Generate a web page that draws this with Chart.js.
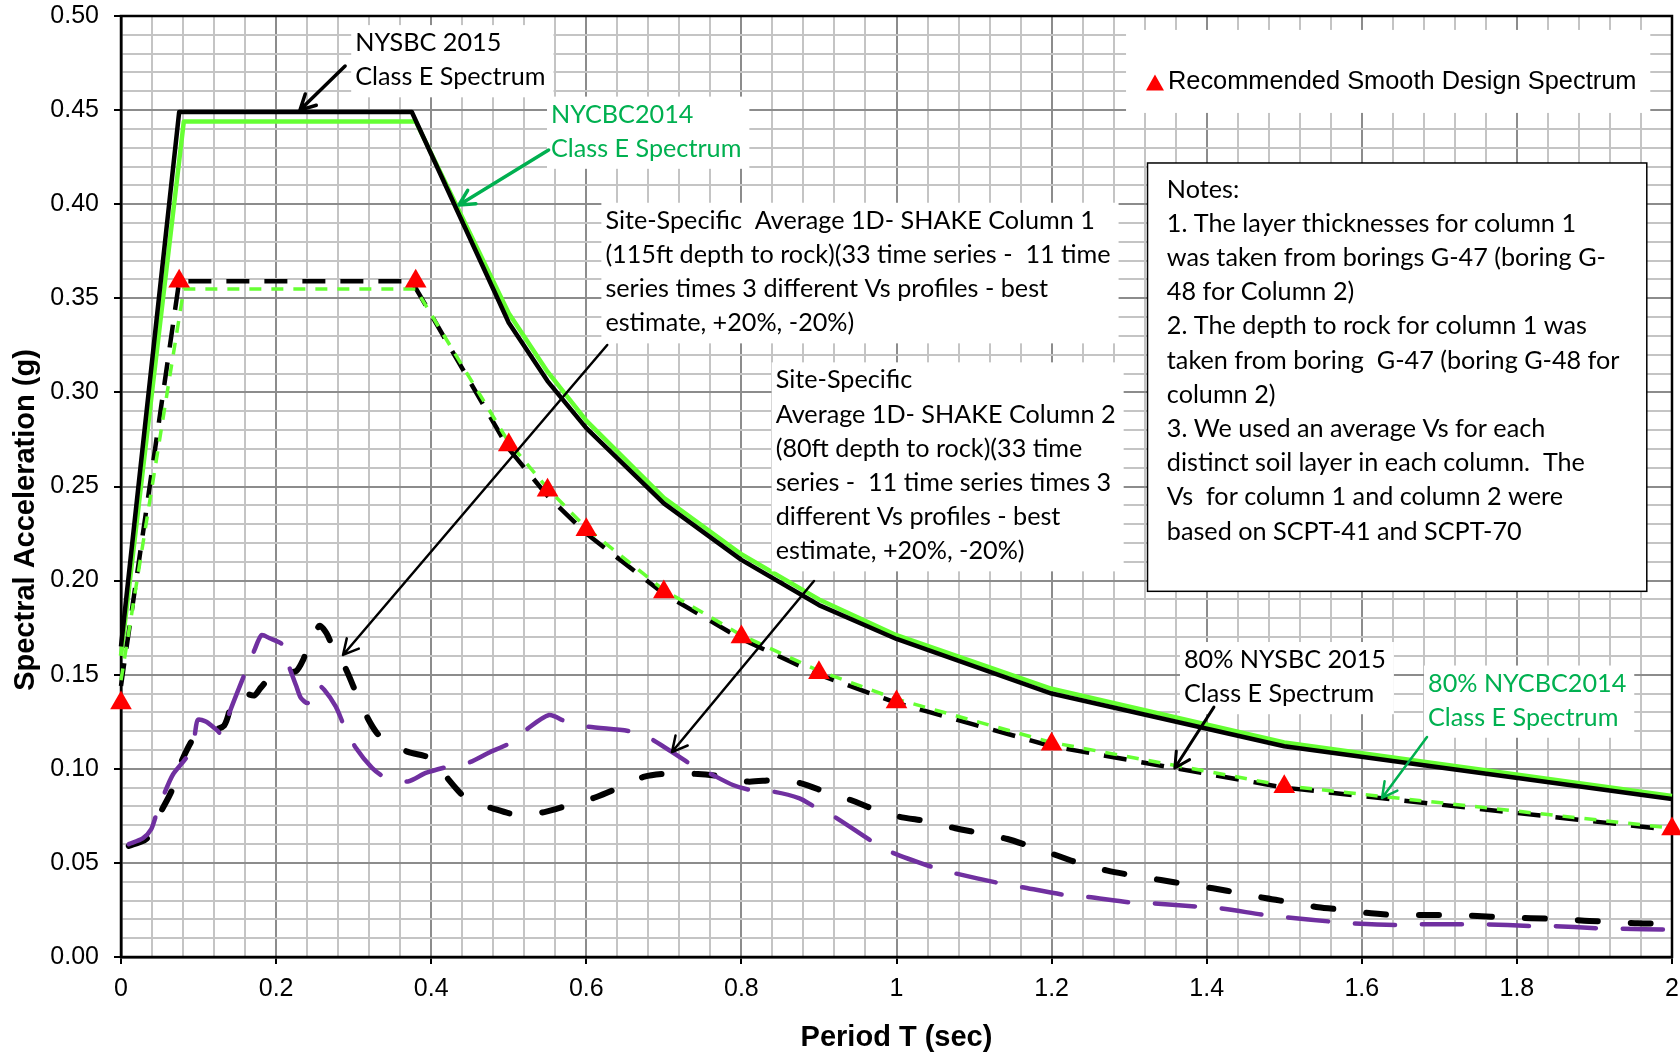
<!DOCTYPE html>
<html>
<head>
<meta charset="utf-8">
<title>Design response spectra</title>
<script src="https://cdn.jsdelivr.net/npm/chart.js@4.4.1/dist/chart.umd.min.js"></script>
<style>
  html, body { margin: 0; padding: 0; background: #fff; }
  #wrap { width: 1680px; height: 1057px; }
</style>
</head>
<body>
<div id="wrap"><canvas id="spectra" width="1680" height="1057"></canvas></div>
<script>
// code spectra, period T (sec) vs spectral acceleration (g)
const codePeriods = [0, 0.075, 0.375, 0.5, 0.55, 0.6, 0.7, 0.8, 0.9, 1.0, 1.2, 1.5, 2.0];
const nysbc2015 = [0.165, 0.449, 0.449, 0.337, 0.306, 0.281, 0.241, 0.211, 0.187, 0.169, 0.140, 0.112, 0.084];
const nysbc2015x80 = [0.144, 0.359, 0.359, 0.270, 0.245, 0.225, 0.193, 0.169, 0.150, 0.135, 0.112, 0.090, 0.0675];

const nycbcPeriods = [0, 0.081, 0.38, 0.5, 0.55, 0.6, 0.7, 0.8, 0.9, 1.0, 1.2, 1.5, 2.0];
const nycbc2014 = [0.160, 0.444, 0.444, 0.342, 0.311, 0.285, 0.244, 0.214, 0.190, 0.171, 0.1425, 0.114, 0.0855];
const nycbc2014x80 = [0.147, 0.355, 0.355, 0.2735, 0.249, 0.228, 0.195, 0.171, 0.152, 0.137, 0.114, 0.091, 0.0685];

// recommended smooth design spectrum (markers only)
const designPeriods = [0, 0.075, 0.38, 0.5, 0.55, 0.6, 0.7, 0.8, 0.9, 1.0, 1.2, 1.5, 2.0];
const designSa = [0.135, 0.359, 0.359, 0.272, 0.248, 0.227, 0.194, 0.170, 0.151, 0.1355, 0.113, 0.0905, 0.068];

// site-specific 1D SHAKE averages
const col1Periods = [0.01, 0.03, 0.04, 0.05, 0.065, 0.075, 0.09, 0.1, 0.11, 0.133,
  0.146, 0.16, 0.172, 0.18, 0.196, 0.21, 0.226, 0.235, 0.241, 0.256,
  0.265, 0.275, 0.29, 0.305, 0.318, 0.33, 0.342, 0.37, 0.39, 0.404,
  0.423, 0.447, 0.479, 0.511, 0.546, 0.58, 0.613, 0.645, 0.675, 0.709,
  0.744, 0.778, 0.808, 0.845, 0.877, 0.911, 0.941, 0.976, 1.004, 1.042,
  1.076, 1.11, 1.143, 1.176, 1.208, 1.242, 1.272, 1.309, 1.341, 1.375,
  1.408, 1.444, 1.477, 1.511, 1.544, 1.578, 1.612, 1.646, 1.681, 1.715,
  1.749, 1.784, 1.818, 1.853, 1.887, 1.921, 1.956, 2.0];
const col1Sa = [0.059, 0.062, 0.066, 0.076, 0.088, 0.101, 0.114, 0.119, 0.120, 0.123,
  0.1385, 0.140, 0.139, 0.143, 0.150, 0.151, 0.152, 0.158, 0.165, 0.176,
  0.172, 0.163, 0.153, 0.1385, 0.127, 0.119, 0.1146, 0.109, 0.107, 0.105,
  0.094, 0.0836, 0.079, 0.0755, 0.077, 0.081, 0.085, 0.0905, 0.0958, 0.0976,
  0.0972, 0.0958, 0.0932, 0.094, 0.0923, 0.0873, 0.0834, 0.0777, 0.0745, 0.0719,
  0.0684, 0.0657, 0.0627, 0.0583, 0.0538, 0.0489, 0.0459, 0.043, 0.0409, 0.0386,
  0.0365, 0.0338, 0.0312, 0.0289, 0.0264, 0.025, 0.0232, 0.0223, 0.0223, 0.0223,
  0.0218, 0.0211, 0.0206, 0.0202, 0.0193, 0.0188, 0.0179, 0.0177];

const col2Periods = [0.01, 0.028, 0.039, 0.045, 0.056, 0.067, 0.086, 0.095, 0.099, 0.11,
  0.125, 0.131, 0.14, 0.161, 0.172, 0.181, 0.191, 0.208, 0.217, 0.226,
  0.232, 0.241, 0.252, 0.262, 0.277, 0.288, 0.303, 0.324, 0.342, 0.37,
  0.393, 0.423, 0.449, 0.475, 0.501, 0.522, 0.552, 0.574, 0.602, 0.66,
  0.686, 0.733, 0.759, 0.789, 0.812, 0.842, 0.875, 0.894, 0.92, 0.969,
  0.995, 1.049, 1.075, 1.133, 1.158, 1.218, 1.244, 1.304, 1.33, 1.39,
  1.416, 1.476, 1.502, 1.56, 1.586, 1.646, 1.672, 1.73, 1.758, 1.818,
  1.844, 1.904, 1.93, 2.0];
const col2Sa = [0.060, 0.063, 0.068, 0.075, 0.087, 0.097, 0.107, 0.118, 0.126, 0.125,
  0.120, 0.1176, 0.130, 0.152, 0.163, 0.171, 0.1695, 0.166, 0.154, 0.144,
  0.1376, 0.135, 0.145, 0.142, 0.133, 0.1226, 0.111, 0.1004, 0.0951, 0.0933,
  0.0978, 0.1013, 0.1034, 0.1087, 0.1135, 0.1206, 0.1286, 0.125, 0.1224, 0.1197,
  0.1153, 0.1029, 0.0976, 0.0914, 0.0887, 0.0878, 0.0843, 0.0799, 0.0745, 0.0613,
  0.0554, 0.0474, 0.0445, 0.0392, 0.0374, 0.0329, 0.032, 0.0289, 0.0285, 0.0267,
  0.0259, 0.0223, 0.0211, 0.0188, 0.0179, 0.017, 0.0174, 0.0174, 0.0174, 0.0165,
  0.0165, 0.0153, 0.015, 0.0146];

// major tick labels; minor gridlines sit between them (5 per major step)
const xTickLabels = ['0', '0.2', '0.4', '0.6', '0.8', '1', '1.2', '1.4', '1.6', '1.8', '2'];
const yTickLabels = ['0.00', '0.05', '0.10', '0.15', '0.20', '0.25', '0.30', '0.35', '0.40', '0.45', '0.50'];

const notesLines = [
  'Notes:',
  '1. The layer thicknesses for column 1',
  'was taken from borings G-47 (boring G-',
  '48 for Column 2)',
  '2. The depth to rock for column 1 was',
  'taken from boring  G-47 (boring G-48 for',
  'column 2)',
  '3. We used an average Vs for each',
  'distinct soil layer in each column.  The',
  'Vs  for column 1 and column 2 were',
  'based on SCPT-41 and SCPT-70'
];

const GREEN_TEXT = '#00b050';
const LIME = '#66ff33';
const PURPLE = '#7030a0';
const AXIS_FONT = '"Liberation Sans", Arial, sans-serif';
const NOTE_FONT = '25.2px Lato, "Open Sans", sans-serif';
const LINE_GAP = 34.2;

// callout text boxes with leader arrows, anchored in data units [T, Sa]
const callouts = [
  { lines: ['NYSBC 2015', 'Class E Spectrum'], color: '#000', at: [0.302, 0.4856],
    arrow: { from: [0.289, 0.4734], to: [0.2308, 0.450], width: 3.5 } },
  { lines: ['NYCBC2014', 'Class E Spectrum'], color: GREEN_TEXT, at: [0.5545, 0.4476],
    arrow: { from: [0.5514, 0.4288], to: [0.4358, 0.3996], width: 3.5 } },
  { lines: ['Site-Specific  Average 1D- SHAKE Column 1',
            '(115ft depth to rock)(33 time series -  11 time',
            'series times 3 different Vs profiles - best',
            'estimate, +20%, -20%)'], color: '#000', at: [0.6246, 0.3912],
    arrow: { from: [0.627, 0.3252], to: [0.2863, 0.1605], width: 2.5 } },
  { lines: ['Site-Specific', 'Average 1D- SHAKE Column 2', '(80ft depth to rock)(33 time',
            'series -  11 time series times 3', 'different Vs profiles - best',
            'estimate, +20%, -20%)'], color: '#000', at: [0.8442, 0.3064],
    arrow: { from: [0.8936, 0.1998], to: [0.7105, 0.1089], width: 2.5 } },
  { lines: ['80% NYSBC 2015', 'Class E Spectrum'], color: '#000', at: [1.3707, 0.1578],
    arrow: { from: [1.4093, 0.1328], to: [1.3589, 0.1004], width: 3 } },
  { lines: ['80% NYCBC2014', 'Class E Spectrum'], color: GREEN_TEXT, at: [1.6854, 0.1453],
    arrow: { from: [1.6841, 0.1169], to: [1.6261, 0.0845], width: 2.5 } }
];

const notesBox = { from: [1.3237, 0.4219], to: [1.9675, 0.1943], text: [1.3486, 0.4078] };
const legendBox = { from: [1.296, 0.4926], to: [1.972, 0.4485], marker: [1.3333, 0.4647], text: [1.350, 0.4647] };

function toPoints(xs, ys) {
  return xs.map((x, i) => ({ x, y: ys[i] }));
}

function toPx(chart, p) {
  return [chart.scales.x.getPixelForValue(p[0]), chart.scales.y.getPixelForValue(p[1])];
}

function drawArrow(ctx, a, b, color, width) {
  const ang = Math.atan2(b[1] - a[1], b[0] - a[0]);
  const head = 17, spread = Math.PI / 6.5;
  ctx.save();
  ctx.strokeStyle = color;
  ctx.lineWidth = width;
  ctx.lineCap = 'round';
  ctx.lineJoin = 'round';
  ctx.beginPath();
  ctx.moveTo(a[0], a[1]);
  ctx.lineTo(b[0], b[1]);
  ctx.moveTo(b[0] - head * Math.cos(ang - spread), b[1] - head * Math.sin(ang - spread));
  ctx.lineTo(b[0], b[1]);
  ctx.lineTo(b[0] - head * Math.cos(ang + spread), b[1] - head * Math.sin(ang + spread));
  ctx.stroke();
  ctx.restore();
}

function drawTriangle(ctx, x, y, w, h) {
  ctx.beginPath();
  ctx.moveTo(x, y - h / 2);
  ctx.lineTo(x + w / 2, y + h / 2);
  ctx.lineTo(x - w / 2, y + h / 2);
  ctx.closePath();
  ctx.fill();
}

const frameAndTitle = {
  id: 'frameAndTitle',
  beforeDatasetsDraw(chart) {
    const { ctx, chartArea: a } = chart;
    ctx.save();
    ctx.strokeStyle = '#000';
    ctx.lineWidth = 2.5;
    ctx.strokeRect(a.left, a.top, a.right - a.left, a.bottom - a.top);
    ctx.restore();
  },
  afterDraw(chart) {
    const { ctx } = chart;
    ctx.save();
    ctx.translate(26, 520);
    ctx.rotate(-Math.PI / 2);
    ctx.font = 'bold 29px ' + AXIS_FONT;
    ctx.fillStyle = '#000';
    ctx.textAlign = 'center';
    ctx.textBaseline = 'middle';
    ctx.fillText('Spectral Acceleration (g)', 0, 0);
    ctx.restore();
  }
};

const notesPlugin = {
  id: 'notesPlugin',
  afterDatasetsDraw(chart) {
    const { ctx } = chart;
    ctx.save();
    ctx.font = NOTE_FONT;
    ctx.textBaseline = 'middle';

    // callouts: white box behind text, then text, then leader
    callouts.forEach(c => {
      const [x, y] = toPx(chart, c.at);
      const w = Math.max(...c.lines.map(l => ctx.measureText(l).width));
      ctx.fillStyle = '#fff';
      ctx.fillRect(x - 4, y - 18, w + 12, (c.lines.length - 1) * LINE_GAP + 38);
      ctx.fillStyle = c.color;
      c.lines.forEach((l, i) => ctx.fillText(l, x, y + i * LINE_GAP));
    });
    callouts.forEach(c => {
      drawArrow(ctx, toPx(chart, c.arrow.from), toPx(chart, c.arrow.to),
        c.color === '#000' ? '#000' : GREEN_TEXT, c.arrow.width);
    });

    // notes box
    const [nx0, ny0] = toPx(chart, notesBox.from);
    const [nx1, ny1] = toPx(chart, notesBox.to);
    ctx.fillStyle = '#fff';
    ctx.fillRect(nx0, ny0, nx1 - nx0, ny1 - ny0);
    ctx.strokeStyle = '#000';
    ctx.lineWidth = 1.5;
    ctx.strokeRect(nx0, ny0, nx1 - nx0, ny1 - ny0);
    const [tx, ty] = toPx(chart, notesBox.text);
    ctx.fillStyle = '#000';
    notesLines.forEach((l, i) => ctx.fillText(l, tx, ty + i * LINE_GAP));

    // legend entry for the design spectrum markers
    const [lx0, ly0] = toPx(chart, legendBox.from);
    const [lx1, ly1] = toPx(chart, legendBox.to);
    ctx.fillStyle = '#fff';
    ctx.fillRect(lx0, ly0, lx1 - lx0, ly1 - ly0);
    const [mx, my] = toPx(chart, legendBox.marker);
    ctx.fillStyle = '#ff0000';
    drawTriangle(ctx, mx, my, 18, 16);
    const [lx, ly] = toPx(chart, legendBox.text);
    ctx.fillStyle = '#000';
    ctx.font = '25.4px ' + AXIS_FONT;
    ctx.fillText('Recommended Smooth Design Spectrum', lx, ly);
    ctx.restore();
  }
};

function lineSet(label, xs, ys, color, width, dash, cap) {
  return {
    label,
    data: toPoints(xs, ys),
    showLine: true,
    borderColor: color,
    backgroundColor: color,
    borderWidth: width,
    borderDash: dash,
    borderCapStyle: cap || 'butt',
    borderJoinStyle: 'round',
    pointRadius: 0,
    clip: false
  };
}

const majorGrid = '#8c8c8c';
const minorGrid = '#c4c4c4';

const chart = new Chart(document.getElementById('spectra'), {
  type: 'scatter',
  data: {
    datasets: [
      {
        label: 'Recommended Smooth Design Spectrum',
        data: toPoints(designPeriods, designSa),
        showLine: false,
        pointStyle: 'triangle',
        pointRadius: 12.5,
        backgroundColor: '#ff0000',
        borderColor: '#ff0000',
        borderWidth: 0,
        clip: false
      },
      Object.assign(lineSet('Site-Specific Column 2', col2Periods, col2Sa, PURPLE, 4.5, [40, 27], 'round'), { tension: 0.25 }),
      Object.assign(lineSet('Site-Specific Column 1', col1Periods, col1Sa, '#000', 6, [20, 33], 'round'), { tension: 0.25 }),
      lineSet('80% NYCBC2014 Class E', nycbcPeriods, nycbc2014x80, LIME, 3.5, [12, 10]),
      lineSet('80% NYSBC 2015 Class E', codePeriods, nysbc2015x80, '#000', 4.5, [23, 15]),
      lineSet('NYSBC 2015 Class E', codePeriods, nysbc2015, '#000', 4.5, []),
      lineSet('NYCBC2014 Class E', nycbcPeriods, nycbc2014, LIME, 4.5, [])
    ]
  },
  options: {
    responsive: false,
    animation: false,
    events: [],
    // markers at T=0 and T=2 overhang the frame, so no automatic inset
    layout: { autoPadding: false, padding: { left: 0, right: 8, top: 16, bottom: 0 } },
    plugins: { legend: { display: false }, tooltip: { enabled: false } },
    scales: {
      x: {
        type: 'linear',
        min: 0,
        max: 2,
        afterBuildTicks: axis => {
          axis.ticks = Array.from({ length: 51 }, (_, i) => ({ value: i * 0.04 }));
        },
        // fixed band height; end labels may overhang the frame
        afterFit: axis => {
          axis.height = 100;
          axis.paddingLeft = 0;
          axis.paddingRight = 0;
        },
        ticks: {
          autoSkip: false,
          maxRotation: 0,
          padding: 10,
          color: '#000',
          font: { family: AXIS_FONT, size: 25 },
          callback: (v, i) => (i % 5 === 0 ? xTickLabels[i / 5] : '')
        },
        grid: {
          color: c => (c.index % 5 === 0 ? majorGrid : minorGrid),
          lineWidth: 2,
          tickLength: 7,
          tickWidth: 2,
          tickColor: c => (c.index % 5 === 0 ? '#000' : 'rgba(0,0,0,0)')
        },
        border: { color: '#000', width: 2.5 },
        title: {
          display: true,
          text: 'Period T (sec)',
          color: '#000',
          font: { family: AXIS_FONT, size: 29, weight: 'bold' },
          padding: { top: 0, bottom: 2 }
        }
      },
      y: {
        type: 'linear',
        min: 0,
        max: 0.5,
        afterBuildTicks: axis => {
          axis.ticks = Array.from({ length: 51 }, (_, i) => ({ value: i / 100 }));
        },
        afterFit: axis => {
          axis.width = 121;
          axis.paddingTop = 0;
          axis.paddingBottom = 0;
        },
        ticks: {
          autoSkip: false,
          padding: 15,
          color: '#000',
          font: { family: AXIS_FONT, size: 25 },
          callback: (v, i) => (i % 5 === 0 ? yTickLabels[i / 5] : '')
        },
        grid: {
          color: c => (c.index % 5 === 0 ? majorGrid : minorGrid),
          lineWidth: 2,
          tickLength: 7,
          tickWidth: 2,
          tickColor: c => (c.index % 5 === 0 ? '#000' : 'rgba(0,0,0,0)')
        },
        border: { color: '#000', width: 2.5 }
      }
    }
  },
  plugins: [frameAndTitle, notesPlugin]
});
</script>
</body>
</html>
